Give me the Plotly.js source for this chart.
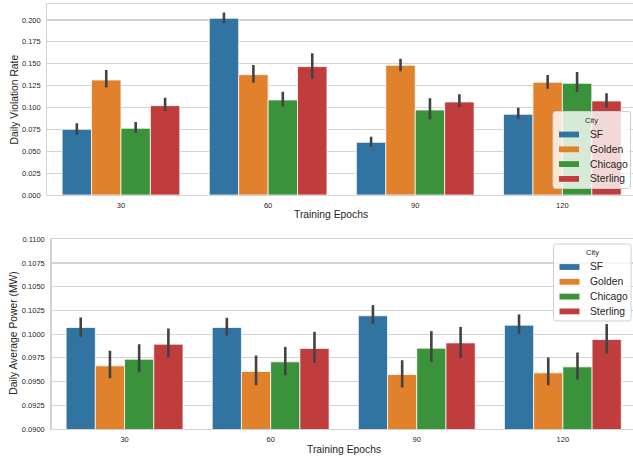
<!DOCTYPE html>
<html>
<head>
<meta charset="utf-8">
<script src="https://cdn.plot.ly/plotly-3.0.1.min.js"></script>
<style>html,body{margin:0;padding:0;background:#fff;}#chart{width:633px;height:459px;}</style>
</head>
<body>
<div id="chart"></div>
<script>
// ---- data ----
const epochs = ['30', '60', '90', '120'];
const cities = ['SF', 'Golden', 'Chicago', 'Sterling'];
const cityColors = ['#3274a1', '#e1812c', '#3a923a', '#c03d3e'];

// Daily violation rate (mean, lower CI, upper CI) per city, by epoch
const violationMean = {
  SF:       [0.0750, 0.2019, 0.0602, 0.0922],
  Golden:   [0.1314, 0.1375, 0.1482, 0.1288],
  Chicago:  [0.0762, 0.1086, 0.0971, 0.1276],
  Sterling: [0.1021, 0.1467, 0.1063, 0.1074]
};
const violationLow = {
  SF:       [0.0686, 0.1962, 0.0552, 0.0865],
  Golden:   [0.1227, 0.1284, 0.1413, 0.1215],
  Chicago:  [0.0712, 0.1010, 0.0865, 0.1177],
  Sterling: [0.0960, 0.1326, 0.1002, 0.0998]
};
const violationHigh = {
  SF:       [0.0819, 0.2084, 0.0667, 0.0998],
  Golden:   [0.1429, 0.1486, 0.1558, 0.1371],
  Chicago:  [0.0834, 0.1181, 0.1105, 0.1406],
  Sterling: [0.1112, 0.1619, 0.1150, 0.1162]
};

// Daily average power (MW)
const powerMean = {
  SF:       [0.10070, 0.10070, 0.10194, 0.10095],
  Golden:   [0.09666, 0.09606, 0.09574, 0.09592],
  Chicago:  [0.09736, 0.09708, 0.09852, 0.09655],
  Sterling: [0.09894, 0.09849, 0.09908, 0.09944]
};
const powerLow = {
  SF:       [0.09972, 0.09986, 0.10106, 0.10004],
  Golden:   [0.09535, 0.09461, 0.09437, 0.09461],
  Chicago:  [0.09599, 0.09567, 0.09708, 0.09521],
  Sterling: [0.09754, 0.09697, 0.09750, 0.09796]
};
const powerHigh = {
  SF:       [0.10176, 0.10173, 0.10306, 0.10208],
  Golden:   [0.09824, 0.09775, 0.09725, 0.09754],
  Chicago:  [0.09894, 0.09866, 0.10032, 0.09806],
  Sterling: [0.10060, 0.10025, 0.10077, 0.10106]
};

const yTicksTop = [0, 0.025, 0.05, 0.075, 0.1, 0.125, 0.15, 0.175, 0.2];
const yTicksBottom = [0.09, 0.0925, 0.095, 0.0975, 0.1, 0.1025, 0.105, 0.1075, 0.11];
const legendTitle = 'City';
const xTitle = 'Training Epochs';
const yTitleTop = 'Daily Violation Rate';
const yTitleBottom = 'Daily Average Power (MW)';

// ---- build ----
const W = 633, H = 459;
const FONT = 'Liberation Sans, Arial, Helvetica, sans-serif';
const TXT = '#262626';
const GRID = '#d3d3d3';

function barTraces(mean, lo, hi, xa, ya) {
  return cities.map((c, i) => ({
    type: 'bar',
    name: c,
    x: epochs,
    y: mean[c],
    xaxis: xa, yaxis: ya,
    showlegend: false,
    marker: {color: cityColors[i], line: {color: 'rgba(255,255,255,0.75)', width: 1}},
    error_y: {
      type: 'data', symmetric: false,
      array: mean[c].map((m, k) => hi[c][k] - m),
      arrayminus: mean[c].map((m, k) => m - lo[c][k]),
      color: '#424242', thickness: 2.6, width: 0
    },
    hoverinfo: 'x+y+name'
  }));
}

const traces = [
  ...barTraces(violationMean, violationLow, violationHigh, 'x', 'y'),
  ...barTraces(powerMean, powerLow, powerHigh, 'x2', 'y2')
];

const px = v => v / W;
const py = v => (H - v) / H;

const axisCommon = {
  showline: true, mirror: true, linecolor: GRID, linewidth: 1.2,
  showgrid: true, gridcolor: GRID, gridwidth: 1.1,
  zeroline: false,
  tickfont: {family: FONT, size: 7.5, color: TXT}
};

// legend box drawn as shapes + text (seaborn-style compact legend)
const shapes = [];
const annotations = [];
function addLegend(left, top) {
  const w = 77.5, h = 77, r = 2.5;
  const x0 = left, x1 = left + w, y0 = top, y1 = top + h;
  const path = `M${x0 + r},${y0} L${x1 - r},${y0} Q${x1},${y0} ${x1},${y0 + r} L${x1},${y1 - r} Q${x1},${y1} ${x1 - r},${y1} ` +
               `L${x0 + r},${y1} Q${x0},${y1} ${x0},${y1 - r} L${x0},${y0 + r} Q${x0},${y0} ${x0 + r},${y0} Z`;
  // convert pixel path to paper coords
  const conv = path.replace(/(-?[\d.]+),(-?[\d.]+)/g, (m, a, b) => `${px(+a)},${py(+b)}`);
  shapes.push({type: 'path', xref: 'paper', yref: 'paper', path: conv, layer: 'above',
               fillcolor: 'rgba(255,255,255,0.8)', line: {color: '#cfcfcf', width: 1}});
  annotations.push({text: legendTitle, xref: 'paper', yref: 'paper', x: px(left + w / 2), y: py(top + 9),
                    xanchor: 'center', yanchor: 'middle', showarrow: false,
                    font: {family: FONT, size: 7.5, color: TXT}});
  cities.forEach((c, i) => {
    const cy = top + 23 + i * 14.8;
    shapes.push({type: 'rect', xref: 'paper', yref: 'paper', layer: 'above',
                 x0: px(left + 6), x1: px(left + 26), y0: py(cy - 2.9), y1: py(cy + 2.9),
                 fillcolor: cityColors[i], line: {width: 0}});
    annotations.push({text: c, xref: 'paper', yref: 'paper', x: px(left + 34.5), y: py(cy),
                      xanchor: 'left', yanchor: 'middle', showarrow: false,
                      font: {family: FONT, size: 10.3, color: TXT}});
  });
}
addLegend(553, 111.5);
addLegend(553.5, 244);

annotations.push(
  {text: xTitle, xref: 'paper', yref: 'paper', x: px(331), y: py(215),
   xanchor: 'center', yanchor: 'middle', showarrow: false, font: {family: FONT, size: 10.3, color: TXT}},
  {text: xTitle, xref: 'paper', yref: 'paper', x: px(344), y: py(449.3),
   xanchor: 'center', yanchor: 'middle', showarrow: false, font: {family: FONT, size: 10.3, color: TXT}},
  {text: yTitleTop, xref: 'paper', yref: 'paper', x: px(13.5), y: py(100),
   xanchor: 'center', yanchor: 'middle', textangle: -90, showarrow: false, font: {family: FONT, size: 10.3, color: TXT}},
  {text: yTitleBottom, xref: 'paper', yref: 'paper', x: px(13.3), y: py(333.5),
   xanchor: 'center', yanchor: 'middle', textangle: -90, showarrow: false, font: {family: FONT, size: 10.3, color: TXT}}
);

const layout = {
  width: W, height: H,
  margin: {l: 0, r: 0, t: 0, b: 0},
  paper_bgcolor: '#ffffff', plot_bgcolor: '#ffffff',
  font: {family: FONT, color: TXT},
  barmode: 'group', bargap: 0.2, bargroupgap: 0,
  showlegend: false,
  xaxis: Object.assign({}, axisCommon, {
    anchor: 'y', domain: [px(47.4), 1], type: 'category',
    range: [-0.5, 3.48], showgrid: false,
    ticks: 'outside', ticklen: 3, tickcolor: 'rgba(0,0,0,0)'
  }),
  yaxis: Object.assign({}, axisCommon, {
    anchor: 'x', domain: [py(195), py(4.3)], range: [0, 0.2179],
    tickvals: yTicksTop, tickformat: '.3f',
    ticks: 'outside', ticklen: 4, tickcolor: 'rgba(0,0,0,0)'
  }),
  xaxis2: Object.assign({}, axisCommon, {
    anchor: 'y2', domain: [px(51.5), 1], type: 'category',
    range: [-0.5, 3.48], showgrid: false,
    ticks: 'outside', ticklen: 3, tickcolor: 'rgba(0,0,0,0)'
  }),
  yaxis2: Object.assign({}, axisCommon, {
    anchor: 'x2', domain: [py(429), py(239.3)], range: [0.09, 0.11],
    tickvals: yTicksBottom, tickformat: '.4f',
    ticks: 'outside', ticklen: 4, tickcolor: 'rgba(0,0,0,0)'
  }),
  shapes: shapes,
  annotations: annotations
};

Plotly.newPlot('chart', traces, layout, {displayModeBar: false, staticPlot: true});
</script>
</body>
</html>
